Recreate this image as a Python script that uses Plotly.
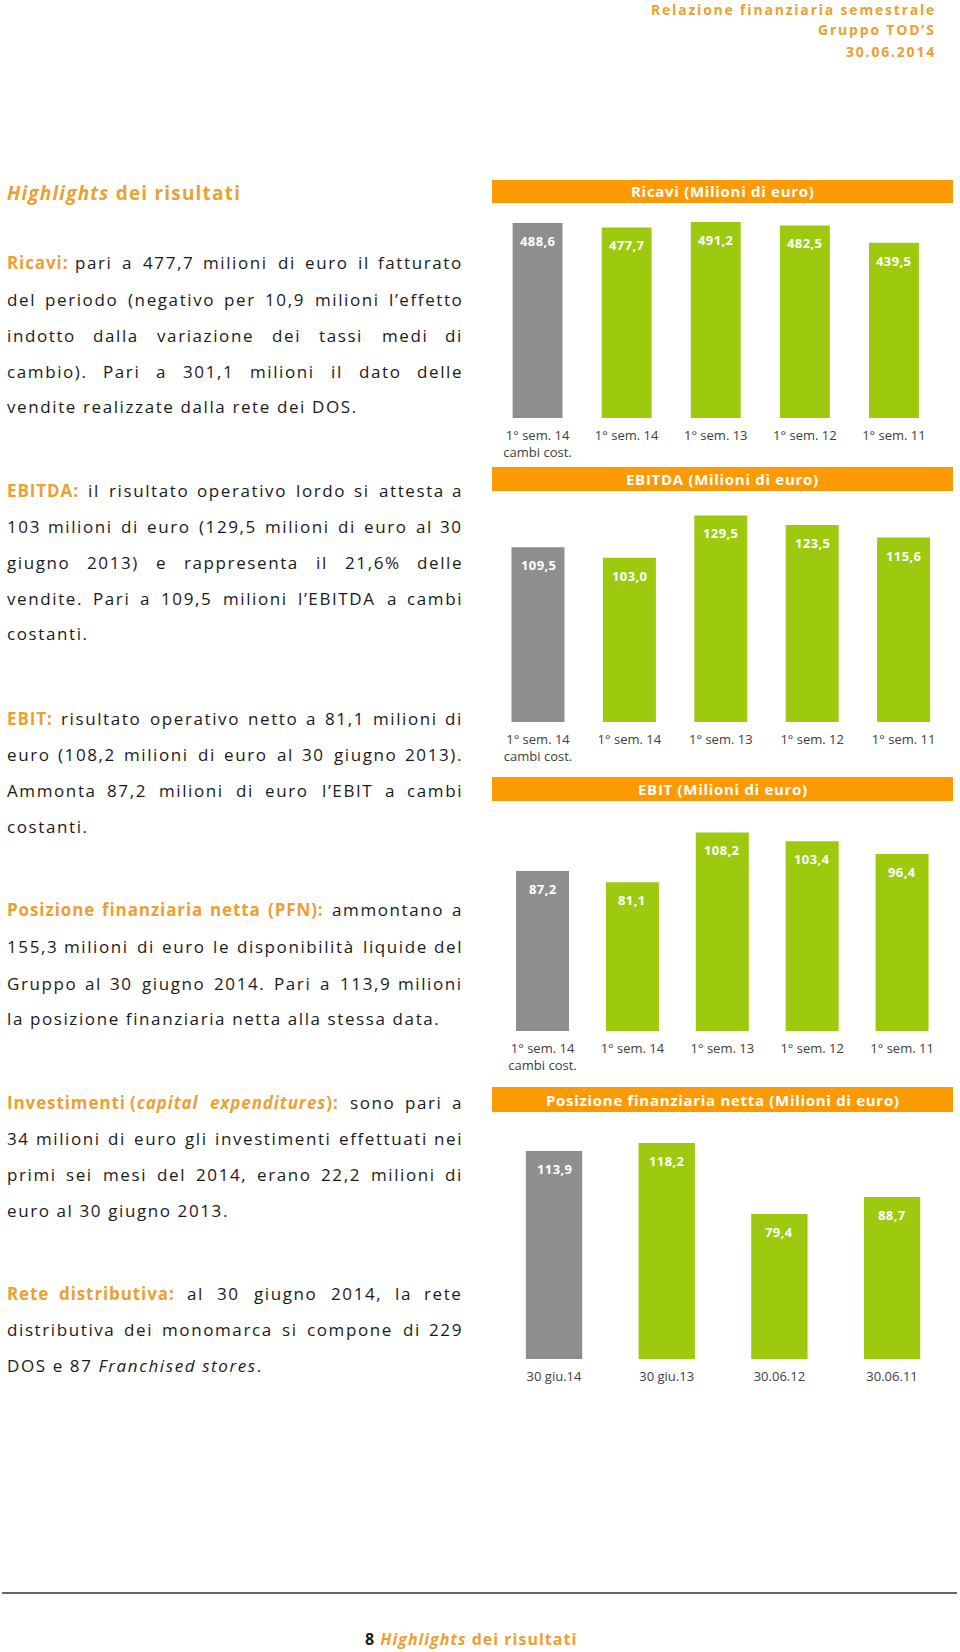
import plotly.graph_objects as go

W, H = 960, 1652
FONT = "Open Sans"
ORANGE_TXT = "#EBA033"
ORANGE_BAR = "#FC9A04"
GREEN = "#9DCA0E"
GRAY = "#8E8E8E"
BLACK = "#1A1A1A"
TICK = "#404040"

# ---------------- data ----------------
ricavi_categories = ["1° sem. 14<br>cambi cost.", "1° sem. 14", "1° sem. 13", "1° sem. 12", "1° sem. 11"]
ricavi_values = [488.6, 477.7, 491.2, 482.5, 439.5]

ebitda_categories = ["1° sem. 14<br>cambi cost.", "1° sem. 14", "1° sem. 13", "1° sem. 12", "1° sem. 11"]
ebitda_values = [109.5, 103.0, 129.5, 123.5, 115.6]

ebit_categories = ["1° sem. 14<br>cambi cost.", "1° sem. 14", "1° sem. 13", "1° sem. 12", "1° sem. 11"]
ebit_values = [87.2, 81.1, 108.2, 103.4, 96.4]

pfn_categories = ["30 giu.14", "30 giu.13", "30.06.12", "30.06.11"]
pfn_values = [113.9, 118.2, 79.4, 88.7]

# ---------------- text content ----------------
header_lines = ["Relazione finanziaria semestrale", "Gruppo TOD’S", "30.06.2014"]

body_paragraphs = [
    ([262, 299, 335, 371, 406], [
        "*Ricavi:* pari a 477,7 milioni di euro il fatturato",
        "del periodo (negativo per 10,9 milioni l’effetto",
        "indotto dalla variazione dei tassi medi di",
        "cambio). Pari a 301,1 milioni il dato delle",
        "vendite realizzate dalla rete dei DOS.",
    ]),
    ([490, 526, 562, 598, 633], [
        "*EBITDA:* il risultato operativo lordo si attesta a",
        "103 milioni di euro (129,5 milioni di euro al 30",
        "giugno 2013) e rappresenta il 21,6% delle",
        "vendite. Pari a 109,5 milioni l’EBITDA a cambi",
        "costanti.",
    ]),
    ([718, 754, 790, 826], [
        "*EBIT:* risultato operativo netto a 81,1 milioni di",
        "euro (108,2 milioni di euro al 30 giugno 2013).",
        "Ammonta 87,2 milioni di euro l’EBIT a cambi",
        "costanti.",
    ]),
    ([909, 946, 983, 1018], [
        "*Posizione finanziaria netta (PFN):* ammontano a",
        "155,3 milioni di euro le disponibilità liquide del",
        "Gruppo al 30 giugno 2014. Pari a 113,9 milioni",
        "la posizione finanziaria netta alla stessa data.",
    ]),
    ([1102, 1138, 1174, 1210], [
        "*Investimenti (_capital expenditures_):* sono pari a",
        "34 milioni di euro gli investimenti effettuati nei",
        "primi sei mesi del 2014, erano 22,2 milioni di",
        "euro al 30 giugno 2013.",
    ]),
    ([1293, 1329, 1365], [
        "*Rete distributiva:* al 30 giugno 2014, la rete",
        "distributiva dei monomarca si compone di 229",
        "DOS e 87 _Franchised stores_.",
    ]),
]

# ---------------- helpers ----------------
CW = {' ': 0.26, 'a': 0.556, 'b': 0.613, 'c': 0.476, 'd': 0.613, 'e': 0.561, 'f': 0.339, 'g': 0.548,
      'h': 0.614, 'i': 0.253, 'j': 0.253, 'k': 0.525, 'l': 0.253, 'm': 0.930, 'n': 0.614, 'o': 0.604,
      'p': 0.613, 'q': 0.613, 'r': 0.408, 's': 0.477, 't': 0.353, 'u': 0.614, 'v': 0.501, 'w': 0.778,
      'x': 0.524, 'y': 0.502, 'z': 0.477, 'à': 0.556,
      'A': 0.635, 'B': 0.657, 'C': 0.633, 'D': 0.728, 'E': 0.559, 'F': 0.519, 'G': 0.729, 'H': 0.742,
      'I': 0.291, 'J': 0.282, 'K': 0.627, 'L': 0.533, 'M': 0.903, 'N': 0.768, 'O': 0.781, 'P': 0.613,
      'Q': 0.781, 'R': 0.63, 'S': 0.55, 'T': 0.566, 'U': 0.742, 'V': 0.595, 'W': 0.928, 'X': 0.592,
      'Y': 0.562, 'Z': 0.571, ',': 0.245, '.': 0.266, ':': 0.266, '(': 0.297, ')': 0.297, '’': 0.179,
      '%': 0.818, '°': 0.426}
for d in "0123456789":
    CW[d] = 0.572

annotations = []
shapes = []

BODY_SIZE = 17
BODY_LS = 1.6
BOLD_LS = 0.9


def seg_ls(bold):
    return BOLD_LS if bold else BODY_LS


def seg_width(text, bold, italic, size):
    w = sum(CW.get(ch, 0.55) for ch in text) * size
    if bold:
        w *= 1.07
    if italic:
        w *= 0.97
    return w + seg_ls(bold) * len(text)


def span(text, bold=False, italic=False, color=BLACK, ls=0.0):
    st = f"letter-spacing:{ls}px;color:{color}"
    if bold:
        st += ";font-weight:bold"
    if italic:
        st += ";font-style:italic"
    return f'<span style="{st}">{text}</span>'


def add_text(x, y, html, size, xanchor="left", color=BLACK):
    annotations.append(dict(xref="paper", yref="paper", x=x / W, y=1 - y / H, text=html,
                            showarrow=False, xanchor=xanchor, yanchor="middle", borderpad=0,
                            font=dict(family=FONT, size=size, color=color)))


def parse_line(line, state):
    words = []
    for raw in line.split(" "):
        segs, cur = [], ""
        for ch in raw:
            if ch in "*_":
                if cur:
                    segs.append((cur, state[0], state[1]))
                    cur = ""
                if ch == "*":
                    state[0] = not state[0]
                else:
                    state[1] = not state[1]
            else:
                cur += ch
        if cur:
            segs.append((cur, state[0], state[1]))
        words.append(segs)
    return words


def seg_html(segs):
    return "".join(span(t, b, i, ORANGE_TXT if b else BLACK, seg_ls(b)) for t, b, i in segs)


# ---------------- body text (justified) ----------------
LEFT, RIGHT = 6, 464
for ys, lines in body_paragraphs:
    state = [False, False]
    for k, (y, line) in enumerate(zip(ys, lines)):
        words = parse_line(line, state)
        last = (k == len(lines) - 1)
        if last:
            flat = []
            for j, w in enumerate(words):
                if j > 0:
                    flat.append((" ", flat[-1][1], flat[-1][2]))
                flat.extend(w)
            merged = []
            for t, b, i in flat:
                if merged and merged[-1][1] == b and merged[-1][2] == i:
                    merged[-1] = (merged[-1][0] + t, b, i)
                else:
                    merged.append((t, b, i))
            add_text(LEFT, y, seg_html(merged), BODY_SIZE)
        else:
            ws = [sum(seg_width(t, b, i, BODY_SIZE) for t, b, i in w) for w in words]
            n = len(words)
            gap = (RIGHT - LEFT - sum(ws)) / (n - 1)
            xc = LEFT
            for j, w in enumerate(words):
                html = seg_html(w)
                if j == 0:
                    add_text(LEFT, y, html, BODY_SIZE, "left")
                elif j == n - 1:
                    add_text(RIGHT, y, html, BODY_SIZE, "right")
                else:
                    add_text(xc + ws[j] / 2, y, html, BODY_SIZE, "center")
                xc += ws[j] + gap

# ---------------- page header / titles ----------------
for y, t in zip([10, 30, 51], header_lines):
    add_text(937, y, span(t, True, False, ORANGE_TXT, 1.8), 14, "right")

add_text(6, 193, span("Highlights", True, True, ORANGE_TXT, 1.2) + span(" dei risultati", True, False, ORANGE_TXT, 1.2), 19)

# footer
shapes.append(dict(type="line", xref="paper", yref="paper", x0=2 / W, x1=957 / W,
                   y0=1 - 1593 / H, y1=1 - 1593 / H, line=dict(color="#333333", width=1.5)))
add_text(471, 1639, span("8 ", True, False, BLACK, 1.0) + span("Highlights", True, True, ORANGE_TXT, 1.0)
         + span(" dei risultati", True, False, ORANGE_TXT, 1.0), 16, "center")

# ---------------- charts ----------------
charts = [
    dict(title="Ricavi (Milioni di euro)", cats=ricavi_categories, vals=ricavi_values,
         x0=493, x1=938.5, base=418, top=210, scale=0.399, bw=0.56, hdr=(180, 203)),
    dict(title="EBITDA (Milioni di euro)", cats=ebitda_categories, vals=ebitda_values,
         x0=492.3, x1=949.3, base=722, top=500, scale=1.595, bw=0.58, hdr=(467, 491)),
    dict(title="EBIT (Milioni di euro)", cats=ebit_categories, vals=ebit_values,
         x0=497.6, x1=947, base=1031, top=810, scale=1.835, bw=0.59, hdr=(777, 801)),
    dict(title="Posizione finanziaria netta (Milioni di euro)", cats=pfn_categories, vals=pfn_values,
         x0=497.7, x1=948.4, base=1359, top=1120, scale=1.827, bw=0.50, hdr=(1087, 1112)),
]

fig = go.Figure()
axes_layout = {}
for k, c in enumerate(charts):
    n = "" if k == 0 else str(k + 1)
    xa, ya = "x" + n, "y" + n
    colors = [GRAY] + [GREEN] * (len(c["vals"]) - 1)
    fig.add_trace(go.Bar(x=c["cats"], y=c["vals"], width=c["bw"], xaxis=xa, yaxis=ya,
                         marker=dict(color=colors, line=dict(width=0)), hoverinfo="skip"))
    axes_layout["xaxis" + n] = dict(domain=[c["x0"] / W, c["x1"] / W], anchor=ya, type="category",
                                    range=[-0.5, len(c["cats"]) - 0.5], showgrid=False, zeroline=False,
                                    showline=False, ticks="outside", ticklen=5,
                                    tickcolor="rgba(0,0,0,0)",
                                    tickfont=dict(family=FONT, size=13, color=TICK), fixedrange=True)
    axes_layout["yaxis" + n] = dict(domain=[1 - c["base"] / H, 1 - c["top"] / H], anchor=xa,
                                    range=[0, (c["base"] - c["top"]) / c["scale"]], visible=False,
                                    fixedrange=True)
    for cat, v in zip(c["cats"], c["vals"]):
        annotations.append(dict(xref=xa, yref=ya, x=cat, y=v, yshift=-18, showarrow=False,
                                text=span(f"{v:.1f}".replace(".", ","), True, False, "#FFFFFF", 0.4),
                                font=dict(family=FONT, size=13, color="#FFFFFF")))
    h0, h1 = c["hdr"]
    shapes.append(dict(type="rect", xref="paper", yref="paper", x0=492 / W, x1=953 / W,
                       y0=1 - h1 / H, y1=1 - h0 / H, fillcolor=ORANGE_BAR, line=dict(width=0), layer="below"))
    add_text(722.5, (h0 + h1) / 2, span(c["title"], True, False, "#FFFFFF", 0.7), 15, "center", "#FFFFFF")

fig.update_layout(width=W, height=H, margin=dict(l=0, r=0, t=0, b=0), paper_bgcolor="white",
                  plot_bgcolor="white", showlegend=False, annotations=annotations, shapes=shapes,
                  font=dict(family=FONT), **axes_layout)

fig.write_html("out.html")
